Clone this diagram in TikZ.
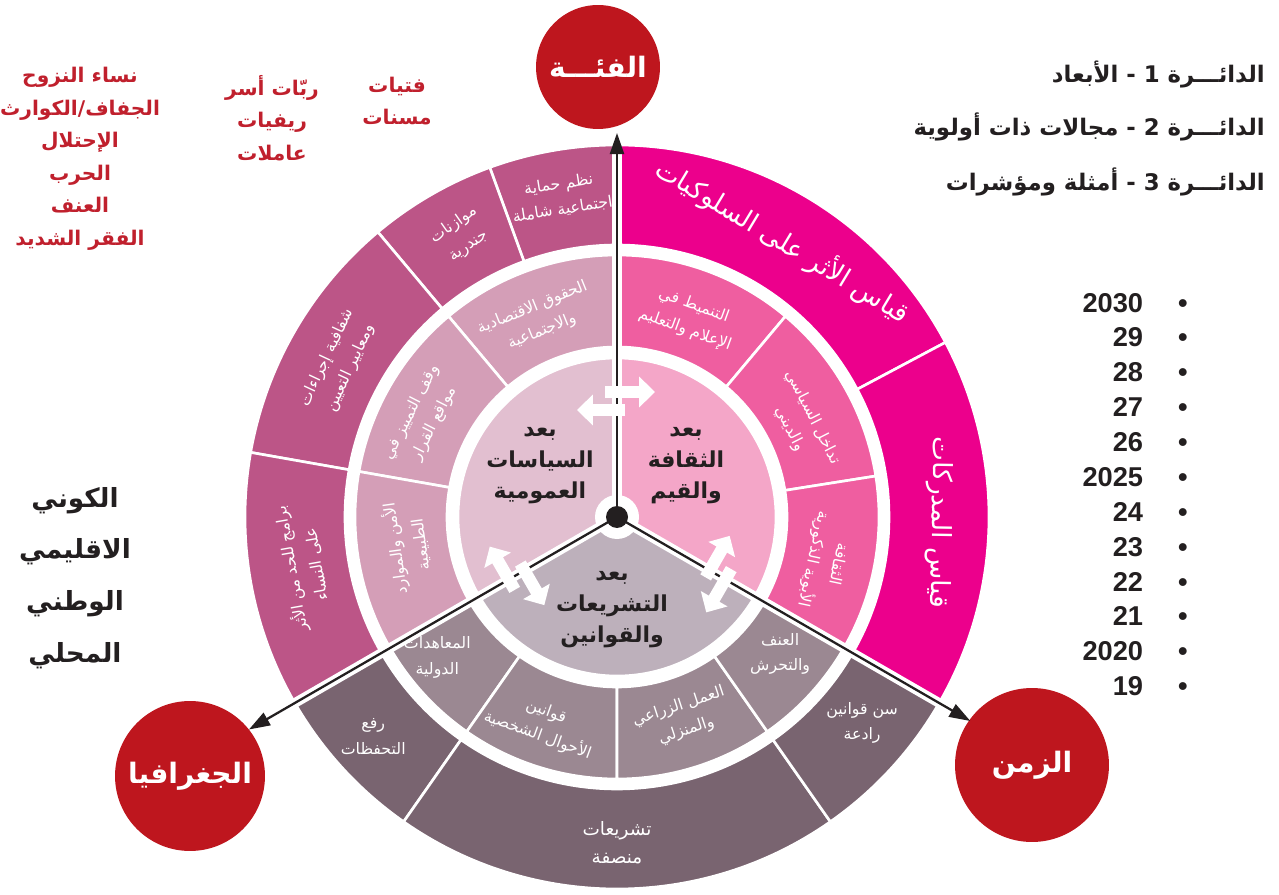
\documentclass[tikz,border=0pt]{standalone}
\usepackage{fontspec}
\setmainfont{Liberation Sans}
\newfontfamily\arfont[Script=Arabic]{DejaVu Sans}
\TeXXeTstate=1
\usetikzlibrary{arrows.meta,positioning}

\definecolor{cultin}{RGB}{244,166,200}
\definecolor{cultmid}{RGB}{239,94,160}
\definecolor{cultout}{RGB}{236,0,140}
\definecolor{polin}{RGB}{226,191,208}
\definecolor{polmid}{RGB}{212,158,183}
\definecolor{polout}{RGB}{188,85,135}
\definecolor{legin}{RGB}{189,176,187}
\definecolor{legmid}{RGB}{155,136,146}
\definecolor{legout}{RGB}{121,100,112}
\definecolor{wheelred}{RGB}{190,22,30}
\definecolor{grouptxt}{RGB}{192,32,45}
\definecolor{ink}{RGB}{35,31,32}

\newcommand{\artxt}[1]{{\arfont\beginR #1\endR}}

\begin{document}
\begin{tikzpicture}[x=0.02cm,y=0.02cm,
  sector/.style={draw=white,line width=1.5pt},
  axisnode/.style={circle,fill=wheelred,text=white,font=\bfseries\fontsize{16}{18}\selectfont},
  dimlbl/.style={text=ink,align=center,font=\bfseries\fontsize{12.5}{17.6}\selectfont},
  lbl/.style={text=white,align=center,font=\fontsize{9}{14.5}\selectfont},
  biglbl/.style={text=white,font=\fontsize{15}{18}\selectfont},
  grouplbl/.style={text=grouptxt,align=center,font=\bfseries\fontsize{11.5}{18.5}\selectfont},
  levels/.style={text=ink,align=center,font=\bfseries\fontsize{15}{29.5}\selectfont},
  legend/.style={text=ink,anchor=east,font=\bfseries\fontsize{13}{16}\selectfont},
  years/.style={text=ink,anchor=east,align=right,font=\bfseries\fontsize{15.5}{19.85}\selectfont},
  axisline/.style={ink,line width=1.3pt,-{Triangle[length=12pt,width=8pt]}},
  xchg/.style={white,line width=7pt,-{Triangle[length=9pt,width=17pt]}}]
\useasboundingbox (0,0) rectangle (1279,894);

\node[axisnode,minimum size=2.48cm] (grp) at (598,827) {\artxt{الفئـــة}};
\node[axisnode,minimum size=3cm] (geo) at (190,118) {\artxt{الجغرافيا}};
\node[axisnode,minimum size=3.08cm] (time) at (1032,129) {\artxt{الزمن}};

\begin{scope}[shift={(617,377)}]
\foreach \c/\a/\b/\ri/\ro in {cultmid/90/50/170/262, cultmid/50/9/170/262, cultmid/9/-30/170/262,
    cultout/90/28/272/372, cultout/28/-30/272/372,
    polmid/90/130/170/262, polmid/130/170/170/262, polmid/170/210/170/262,
    polout/90/110/272/372, polout/110/130/272/372, polout/130/170/272/372, polout/170/210/272/372,
    legmid/210/235/170/262, legmid/235/270/170/262, legmid/270/305/170/262, legmid/305/330/170/262,
    legout/210/235/272/372, legout/235/305/272/372, legout/305/330/272/372}
  \filldraw[sector,fill=\c] (\a:\ri) arc[start angle=\a,end angle=\b,radius=\ri]
    -- (\b:\ro) arc[start angle=\b,end angle=\a,radius=\ro] -- cycle;
\filldraw[sector,fill=cultin] (0,0) -- (90:159) arc[start angle=90,end angle=-30,radius=159] -- cycle;
\filldraw[sector,fill=polin] (0,0) -- (90:159) arc[start angle=90,end angle=210,radius=159] -- cycle;
\filldraw[sector,fill=legin] (0,0) -- (210:159) arc[start angle=210,end angle=330,radius=159] -- cycle;

\coordinate (hub) at (0,0);
\coordinate (tip_grp) at (90:384);
\coordinate (tip_geo) at (210:425);
\coordinate (tip_time) at (330:408);
\foreach \a in {90,210,330}
  \draw[white,line width=5.5pt] (hub) -- (\a:374);
\fill[white] (hub) circle[radius=22];
\path[axisline] (hub) edge (tip_grp) edge (tip_geo) edge (tip_time);
\fill[ink] (hub) circle[radius=11];

\foreach \r in {0,120,240} {
  \begin{scope}[rotate=\r]
    \draw[xchg] (-12,125) -- (38,125);
    \draw[xchg] (8,107) -- (-40,107);
  \end{scope}
}

\node[dimlbl] (dim_c) at (69,51) {\artxt{بعد}\\\artxt{الثقافة}\\\artxt{والقيم}};
\node[dimlbl] (dim_p) at (-77,51) {\artxt{بعد}\\\artxt{السياسات}\\\artxt{العمومية}};
\node[dimlbl] (dim_l) at (-5,-93) {\artxt{بعد}\\\artxt{التشريعات}\\\artxt{والقوانين}};

\node[lbl,rotate=-20] (c2_media) at (70:212) {\artxt{التنميط في}\\\artxt{الإعلام والتعليم}};
\node[lbl,rotate=-63] (c2_relig) at (27:207) {\artxt{تداخل السياسي}\\\artxt{والديني}};
\node[lbl,rotate=-102] (c2_patri) at (-12:213) {\artxt{الثقافة}\\\artxt{الأبوية الذكورية}};
\node[lbl,rotate=22] (p2_rights) at (112:213) {\artxt{الحقوق الاقتصادية}\\\artxt{والاجتماعية}};
\node[lbl,rotate=63] (p2_discr) at (153:218) {\artxt{وقف التمييز في}\\\artxt{مواقع القرار}};
\node[lbl,rotate=98] (p2_secur) at (188:212) {\artxt{الأمن والموارد}\\\artxt{الطبيعية}};
\node[lbl] (l2_treaty) at (218:228) {\artxt{المعاهدات}\\\artxt{الدولية}};
\node[lbl,rotate=-20] (l2_status) at (250:220) {\artxt{قوانين}\\\artxt{الأحوال الشخصية}};
\node[lbl,rotate=18] (l2_work) at (288:212) {\artxt{العمل الزراعي}\\\artxt{والمنزلي}};
\node[lbl] (l2_viol) at (320:213) {\artxt{العنف}\\\artxt{والتحرش}};

\node[biglbl,rotate=-31] (c3_behav) at (59:322) {\artxt{قياس الأثر على السلوكيات}};
\node[biglbl,rotate=-91] (c3_percep) at (-1:322) {\artxt{قياس المدركات}};
\node[lbl,rotate=9] (p3_protect) at (100:325) {\artxt{نظم حماية}\\\artxt{اجتماعية شاملة}};
\node[lbl,rotate=35] (p3_budget) at (119:322) {\artxt{موازنات}\\\artxt{جندرية}};
\node[lbl,rotate=65] (p3_transp) at (151:318) {\artxt{شفافية إجراءات}\\\artxt{ومعايير التعيين}};
\node[lbl,rotate=100] (p3_impact) at (189:318) {\artxt{برامج للحد من الأثر}\\\artxt{على النساء}};
\node[lbl] (l3_reserv) at (222:328) {\artxt{رفع}\\\artxt{التحفظات}};
\node[lbl,font=\fontsize{10.5}{16}\selectfont] (l3_fair) at (270:326) {\artxt{تشريعات}\\\artxt{منصفة}};
\node[lbl] (l3_deter) at (320:320) {\artxt{سن قوانين}\\\artxt{رادعة}};
\end{scope}

\node[grouplbl] (grp_crisis) at (80,735) {\artxt{نساء النزوح}\\\artxt{الجفاف/الكوارث}\\\artxt{الإحتلال}\\\artxt{الحرب}\\\artxt{العنف}\\\artxt{الفقر الشديد}};
\node[grouplbl] (grp_rural) at (272,776) {\artxt{ربّات أسر}\\\artxt{ريفيات}\\\artxt{عاملات}};
\node[grouplbl] (grp_age) at (397,793) {\artxt{فتيات}\\\artxt{مسنات}};

\node[levels] (geo_levels) at (75,316) {\artxt{الكوني}\\\artxt{الاقليمي}\\\artxt{الوطني}\\\artxt{المحلي}};

\node[legend] (leg_1) at (1271,819) {\artxt{الدائـــرة 1 - الأبعاد}};
\node[legend] (leg_2) at (1271,767) {\artxt{الدائـــرة 2 - مجالات ذات أولوية}};
\node[legend] (leg_3) at (1271,712) {\artxt{الدائـــرة 3 - أمثلة ومؤشرات}};

\node[years] (yrs) at (1194,399.5) {2030\hspace{20pt}\textbullet\\29\hspace{20pt}\textbullet\\28\hspace{20pt}\textbullet\\27\hspace{20pt}\textbullet\\26\hspace{20pt}\textbullet\\2025\hspace{20pt}\textbullet\\24\hspace{20pt}\textbullet\\23\hspace{20pt}\textbullet\\22\hspace{20pt}\textbullet\\21\hspace{20pt}\textbullet\\2020\hspace{20pt}\textbullet\\19\hspace{20pt}\textbullet};
\end{tikzpicture}
\end{document}
